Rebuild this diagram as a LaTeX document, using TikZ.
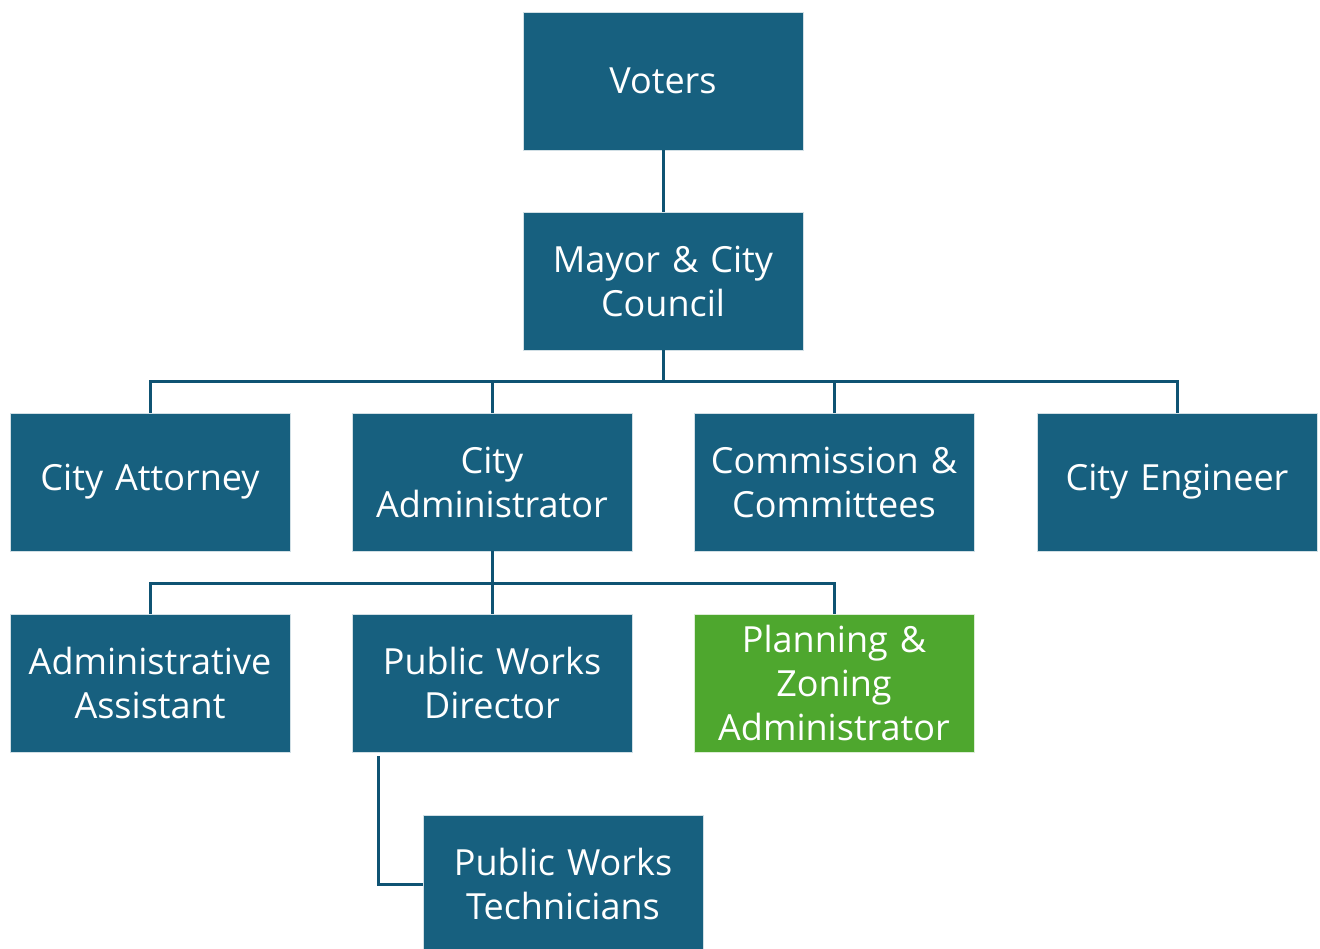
\documentclass[tikz,border=0pt]{standalone}
\usepackage{fontspec}
\setmainfont{Open Sans}
\usepackage{xcolor}
\usetikzlibrary{positioning, calc}
\definecolor{orgblue}{HTML}{17607F}
\definecolor{orggreen}{HTML}{4EA72E}
\definecolor{linkblue}{HTML}{0F5373}
\tikzset{
  office/.style={fill=orgblue, draw=white!80!orgblue, line width=0.6pt, text=white,
    minimum width=280pt, minimum height=138pt, text width=276pt, align=center,
    inner sep=0pt, font=\fontsize{36}{44}\selectfont},
  zoning/.style={office, fill=orggreen, draw=white!80!orggreen},
  link/.style={draw=linkblue, line width=3pt}
}

\begin{document}
\begin{tikzpicture}[x=1pt, y=-1pt]
  \useasboundingbox (0,0) rectangle (1320,948);

  \node[office] (voters) at (663, 81) {Voters};
  \node[office] (mayor) at (663, 281) {Mayor \& City\\Council};

  \node[office] (attorney) at (150, 482) {City Attorney};
  \node[office] (admin) at (492, 482) {City\\Administrator};
  \node[office] (commission) at (834, 482) {Commission \&\\Committees};
  \node[office] (engineer) at (1177, 482) {City Engineer};

  \node[office] (assistant) at (150, 683) {Administrative\\Assistant};
  \node[office] (pwdir) at (492, 683) {Public Works\\Director};
  \node[zoning] (planning) at (834, 683) {Planning \&\\Zoning\\Administrator};

  \node[office] (techs) at (563, 884) {Public Works\\Technicians};

  % council level
  \coordinate (bus1) at (663, 381);
  \draw[link] (voters.south) -- (mayor.north);
  \draw[link] (mayor.south) -- (bus1);
  \draw[link] (bus1) -| (attorney.north);
  \draw[link] (bus1) -| (admin.north);
  \draw[link] (bus1) -| (commission.north);
  \draw[link] (bus1) -| (engineer.north);

  % administrator level
  \coordinate (bus2) at (492, 583);
  \draw[link] (admin.south) -- (bus2);
  \draw[link] (bus2) -| (assistant.north);
  \draw[link] (bus2) -- (pwdir.north);
  \draw[link] (bus2) -| (planning.north);

  % technicians
  \coordinate (pwtap) at ($(pwdir.south west)+(27,4)$);
  \draw[link] (pwtap) |- (techs.west);
\end{tikzpicture}
\end{document}
